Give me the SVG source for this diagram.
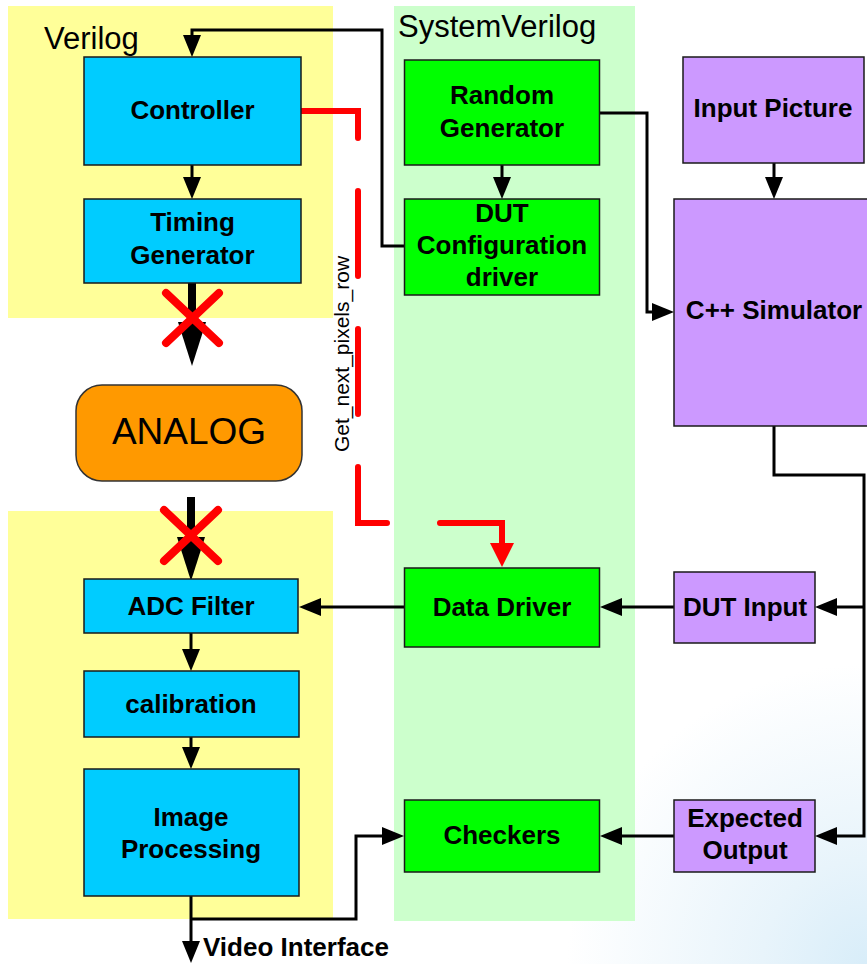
<svg xmlns="http://www.w3.org/2000/svg" width="867" height="964" viewBox="0 0 867 964">
<style>
.lbl{font-family:"Liberation Sans",Arial,sans-serif;font-weight:bold;font-size:26px;fill:#000;text-anchor:middle}
.panel-title{font-family:"Liberation Sans",Arial,sans-serif;font-size:31px;fill:#000}
.box{stroke:#1a1a1a;stroke-width:1.5}
.cyan{fill:#00CCFF}
.grn{fill:#00FF00}
.pur{fill:#CC99FF}
.wire{fill:none;stroke:#000;stroke-width:3}
.thick{fill:none;stroke:#000;stroke-width:8}
.cross{stroke:#FF0000;stroke-width:8;stroke-linecap:round}
</style>
<defs>
<radialGradient id="bg" cx="867" cy="964" r="300" gradientUnits="userSpaceOnUse">
<stop offset="0" stop-color="#d8edf9"/>
<stop offset="0.35" stop-color="#e8f4fb"/>
<stop offset="1" stop-color="#ffffff"/>
</radialGradient>
<marker id="ah" markerUnits="userSpaceOnUse" markerWidth="22" markerHeight="18" viewBox="0 0 22 18" refX="0" refY="9" orient="auto">
<path d="M0,0 L22,9 L0,18 z" fill="#000"/>
</marker>
<marker id="bh" markerUnits="userSpaceOnUse" markerWidth="44" markerHeight="28" viewBox="0 0 44 28" refX="0" refY="14" orient="auto">
<path d="M0,0 L44,14 L0,28 z" fill="#000"/>
</marker>
<marker id="rh" markerUnits="userSpaceOnUse" markerWidth="24" markerHeight="24" viewBox="0 0 24 24" refX="0" refY="12" orient="auto">
<path d="M0,0 L24,12 L0,24 z" fill="#FF0000"/>
</marker>
</defs>
<rect x="0" y="0" width="867" height="964" fill="url(#bg)"/>
<g id="panels">
<rect x="8" y="6" width="325" height="312" fill="#FFFF99"/>
<rect x="8" y="511" width="325" height="408" fill="#FFFF99"/>
<rect x="394" y="6" width="241" height="915" fill="#CCFFCC"/>
<text class="panel-title" x="44" y="49">Verilog</text>
<text class="panel-title" x="398" y="37">SystemVerilog</text>
</g>
<g id="connectors">
<path class="wire" d="M404,246 H382 V30 H192 V35" marker-end="url(#ah)"/>
<path class="wire" d="M192,165 V177" marker-end="url(#ah)"/>
<path class="wire" d="M502,165 V177" marker-end="url(#ah)"/>
<path class="wire" d="M600,113 H647 V312 H652" marker-end="url(#ah)"/>
<path class="wire" d="M774,163 V177" marker-end="url(#ah)"/>
<path class="wire" d="M774,426 V475 H864 V836 H837" marker-end="url(#ah)"/>
<path class="wire" d="M864,607 H837" marker-end="url(#ah)"/>
<path class="wire" d="M674,607 H622" marker-end="url(#ah)"/>
<path class="wire" d="M404,607 H321" marker-end="url(#ah)"/>
<path class="wire" d="M674,836 H622" marker-end="url(#ah)"/>
<path class="wire" d="M191,633 V649" marker-end="url(#ah)"/>
<path class="wire" d="M191,737 V747" marker-end="url(#ah)"/>
<path class="wire" d="M191,896 V941" marker-end="url(#ah)"/>
<path class="wire" d="M191,919 H356 V836 H382" marker-end="url(#ah)"/>
<path class="thick" d="M192,283 V322" marker-end="url(#bh)"/>
<path class="thick" d="M191,497 V537" marker-end="url(#bh)"/>
<path d="M300,111 H358 V523 H502 V543" fill="none" stroke="#FF0000" stroke-width="6" stroke-linecap="round" stroke-dasharray="85 53" marker-end="url(#rh)"/>
<line class="cross" x1="166" y1="293" x2="219" y2="343"/>
<line class="cross" x1="219" y1="293" x2="166" y2="343"/>
<line class="cross" x1="164" y1="510" x2="218" y2="561"/>
<line class="cross" x1="218" y1="510" x2="164" y2="561"/>
<text x="349" y="354" transform="rotate(-90 349 354)" font-family="'Liberation Sans',Arial,sans-serif" font-size="21" text-anchor="middle">Get_next_pixels_row</text>
<text x="203" y="956" font-family="'Liberation Sans',Arial,sans-serif" font-size="26" font-weight="bold">Video Interface</text>
</g>
<g id="controller">
<rect class="box cyan" x="84" y="57" width="217" height="108"/>
<text class="lbl" x="192.5" y="119">Controller</text>
</g>
<g id="timing-generator">
<rect class="box cyan" x="84" y="199" width="217" height="84"/>
<text class="lbl" x="192.5" y="231">Timing</text>
<text class="lbl" x="192.5" y="264">Generator</text>
</g>
<g id="analog">
<rect x="76" y="385" width="226" height="96" rx="26" ry="26" fill="#FF9900" stroke="#333" stroke-width="1.5"/>
<text x="189" y="444" font-family="'Liberation Sans',Arial,sans-serif" font-size="37" text-anchor="middle">ANALOG</text>
</g>
<g id="adc-filter">
<rect class="box cyan" x="84" y="579" width="214" height="54"/>
<text class="lbl" x="191" y="615">ADC Filter</text>
</g>
<g id="calibration">
<rect class="box cyan" x="84" y="671" width="215" height="66"/>
<text class="lbl" x="191" y="713">calibration</text>
</g>
<g id="image-processing">
<rect class="box cyan" x="84" y="769" width="215" height="127"/>
<text class="lbl" x="191" y="826">Image</text>
<text class="lbl" x="191" y="858">Processing</text>
</g>
<g id="random-generator">
<rect class="box grn" x="404.5" y="60" width="195" height="105"/>
<text class="lbl" x="502" y="104">Random</text>
<text class="lbl" x="502" y="137">Generator</text>
</g>
<g id="dut-configuration-driver">
<rect class="box grn" x="404.5" y="199" width="195" height="96"/>
<text class="lbl" x="502" y="222">DUT</text>
<text class="lbl" x="502" y="254">Configuration</text>
<text class="lbl" x="502" y="286">driver</text>
</g>
<g id="data-driver">
<rect class="box grn" x="404.5" y="568" width="195" height="79"/>
<text class="lbl" x="502" y="616">Data Driver</text>
</g>
<g id="checkers">
<rect class="box grn" x="404.5" y="800" width="195" height="72"/>
<text class="lbl" x="502" y="844">Checkers</text>
</g>
<g id="input-picture">
<rect class="box pur" x="683" y="57" width="181" height="106"/>
<text class="lbl" x="773" y="117">Input Picture</text>
</g>
<g id="cpp-simulator">
<rect class="box pur" x="674" y="199" width="202" height="227"/>
<text class="lbl" x="774" y="319">C++ Simulator</text>
</g>
<g id="dut-input">
<rect class="box pur" x="674" y="572" width="141" height="71"/>
<text class="lbl" x="745" y="616">DUT Input</text>
</g>
<g id="expected-output">
<rect class="box pur" x="674" y="800" width="141" height="72"/>
<text class="lbl" x="745" y="827">Expected</text>
<text class="lbl" x="745" y="859">Output</text>
</g>
</svg>
